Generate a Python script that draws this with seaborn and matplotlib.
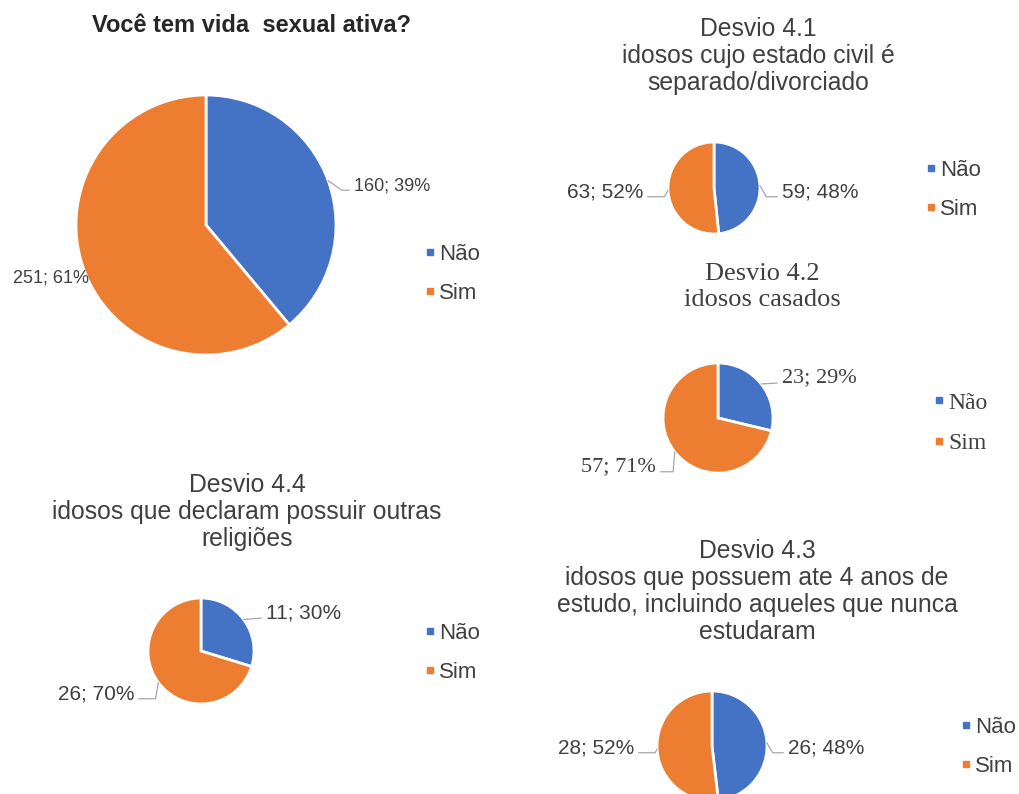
import numpy as np
import matplotlib
matplotlib.use("Agg")
import matplotlib.pyplot as plt
from matplotlib.lines import Line2D
import seaborn as sns

# --- dados ---
categorias = ["Não", "Sim"]
vida_sexual = [160, 251]
desvio_41 = [59, 63]
desvio_42 = [23, 57]
desvio_43 = [26, 28]
desvio_44 = [11, 26]

titulo_geral = "Você tem vida  sexual ativa?"
titulo_41 = "Desvio 4.1\nidosos cujo estado civil é\nseparado/divorciado"
titulo_42 = "Desvio 4.2\nidosos casados"
titulo_43 = "Desvio 4.3\nidosos que possuem ate 4 anos de\nestudo, incluindo aqueles que nunca\nestudaram"
titulo_44 = "Desvio 4.4\nidosos que declaram possuir outras\nreligiões"

sns.set_theme(style="white")
cores = sns.color_palette(["#4472C4", "#ED7D31"])
plt.rcParams["font.family"] = ["Liberation Sans", "DejaVu Sans"]

W, H = 1019, 794
fig = plt.figure(figsize=(W / 100, H / 100), dpi=100)
fig.patch.set_facecolor("white")

TXT = "#404040"
LINHA = "#A6A6A6"
SANS = ["Liberation Sans", "DejaVu Sans"]
SERIF = ["Liberation Serif", "DejaVu Serif"]


def fx(x):
    return x / W


def fy(y):
    return 1 - y / H


def desenha_pizza(valores, cx, cy, r, rotulos, legenda, family, lab_size, leg_size):
    ax = fig.add_axes([fx(cx - r), fy(cy + r), 2 * r / W, 2 * r / H])
    wedges, _ = ax.pie(valores, colors=cores, startangle=90, counterclock=False,
                       radius=1, wedgeprops=dict(edgecolor="white", linewidth=2))
    ax.set_xlim(-1, 1)
    ax.set_ylim(-1, 1)
    ax.set_aspect("auto")
    ax.axis("off")
    total = sum(valores)
    for w, v, (tx, ty, ha, ang) in zip(wedges, valores, rotulos):
        meio = np.deg2rad((w.theta1 + w.theta2) / 2)
        borda = (np.cos(meio), np.sin(meio))
        txt = f"{v}; {round(100 * v / total)}%"
        if ang is None:
            props = None
        else:
            props = dict(arrowstyle="-", color=LINHA, lw=0.9, shrinkA=1, shrinkB=0,
                         relpos=(0 if ha == "left" else 1, 0.25))
            if ang != "reta":
                props["connectionstyle"] = f"angle,angleA=0,angleB={ang},rad=0"
        ax.annotate(txt, xy=borda, xycoords="data", xytext=(fx(tx), fy(ty)),
                    textcoords="figure fraction", ha=ha, va="center",
                    fontsize=lab_size, color=TXT, family=family,
                    arrowprops=props, annotation_clip=False)
    handles = [Line2D([], [], marker="s", ls="", color=c, markersize=5) for c in cores]
    ax.legend(handles, categorias, loc="center left",
              bbox_to_anchor=(fx(legenda[0]), fy(legenda[1])),
              bbox_transform=fig.transFigure, frameon=False, borderpad=0,
              borderaxespad=0, handlelength=0.4, handletextpad=0.2,
              labelspacing=0.8, prop=dict(family=family, size=leg_size),
              labelcolor=TXT)
    return ax


# gráfico principal
fig.text(fx(252), fy(25), titulo_geral, ha="center", va="center",
         fontsize=17, fontweight="bold", color="#262626")
desenha_pizza(vida_sexual, 206, 225, 130,
              [(354, 186, "left", -35), (89, 278, "right", None)],
              (426, 274), SANS, 13, 16)

# desvio 4.1
fig.text(fx(758), fy(17), titulo_41, ha="center", va="top", fontsize=17.8,
         color=TXT, linespacing=1.15)
desenha_pizza(desvio_41, 714, 188, 46,
              [(782, 192, "left", -60), (643, 192, "right", 60)],
              (927, 190), SANS, 15, 16)

# desvio 4.2 (serifado)
fig.text(fx(762), fy(263), titulo_42, ha="center", va="top", fontsize=19,
         color=TXT, family=SERIF, linespacing=1.25)
desenha_pizza(desvio_42, 718, 418, 55,
              [(782, 378, "left", "reta"), (656, 467, "right", 85)],
              (934, 423), SERIF, 16, 17)

# desvio 4.4
fig.text(fx(247), fy(473), titulo_44, ha="center", va="top", fontsize=17.8,
         color=TXT, linespacing=1.15)
desenha_pizza(desvio_44, 201, 651, 53,
              [(266, 613, "left", "reta"), (134, 694, "right", 80)],
              (426, 653), SANS, 15, 16)

# desvio 4.3
fig.text(fx(757), fy(539), titulo_43, ha="center", va="top", fontsize=17.8,
         color=TXT, linespacing=1.15)
desenha_pizza(desvio_43, 712, 746, 55,
              [(788, 748, "left", -60), (634, 748, "right", 60)],
              (962, 747), SANS, 15, 16)

fig.savefig("out.png", dpi=100, facecolor="white")
